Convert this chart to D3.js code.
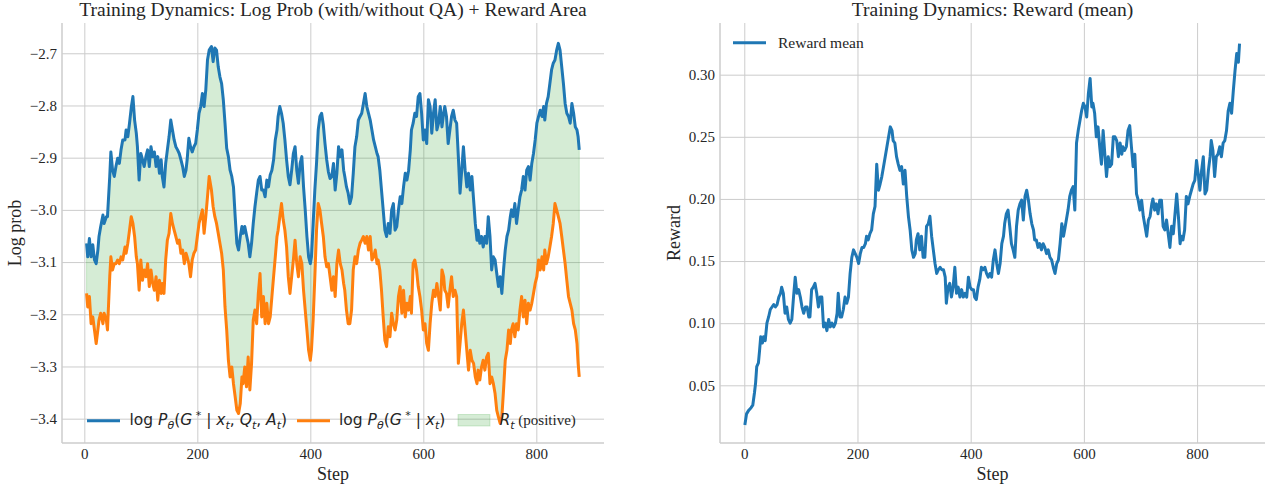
<!DOCTYPE html>
<html>
<head>
<meta charset="utf-8">
<script src="https://d3js.org/d3.v7.min.js"></script>
<style>
  body { margin: 0; background: #fff; }
</style>
</head>
<body>
<svg id="chart"></svg>
<script>
// ---- left panel: log prob with / without QA ----
var steps = [
  4,6,9,12,15,18,21,24,26,29,33,35,39,41,45,47,50,53,56,59,62,65,68,72,74,77,80,83,86,89,
  92,94,97,100,103,106,109,112,115,118,121,124,127,130,133,136,138,141,144,147,150,153,156,159,162,165,168,171,174,177,
  180,182,185,188,191,194,197,200,203,206,209,212,215,218,221,
  225,228,231,234,237,240,243,246,249,252,255,258,261,264,267,270,273,276,279,281,284,287,290,293,296,299,302,305,308,311,
  314,317,320,323,326,329,332,335,338,341,343,346,349,352,355,358,361,364,367,370,373,376,379,382,385,388,391,394,397,400,
  402,405,408,411,414,417,420,423,426,429,432,435,
  438,441,444,447,450,453,456,459,461,464,467,470,473,476,479,482,485,488,491,494,497,500,503,506,509,512,515,518,520,523,
  526,529,532,535,538,541,544,547,550,553,556,559,562,565,568,571,574,577,579,582,585,588,591,594,597,600,603,606,609,612,
  615,618,621,624,627,630,633,636,638,641,644,647,650,653,656,659,662,
  665,668,671,674,677,680,683,686,689,692,695,697,700,703,706,709,712,715,718,721,724,727,730,733,736,739,742,745,748,751,
  754,756,759,762,765,768,771,774,777,780,783,786,789,792,795,798,801,804,807,810,813,815,818,821,824,827,830,833,836,839,
  842,845,848,851,854,857,860,863,866,869,872,874,876
];
var logProbQA = [
  -3.064,-3.090,-3.055,-3.090,-3.067,-3.096,-3.103,-3.077,-3.051,-3.032,-3.010,-3.026,-3.013,-3.013,-2.936,-2.889,-2.924,-2.936,-2.917,-2.901,
  -2.911,-2.885,-2.866,-2.866,-2.847,-2.860,-2.834,-2.805,-2.783,-2.828,-2.853,-2.879,-2.943,-2.892,-2.904,-2.917,-2.898,-2.885,-2.917,-2.879,
  -2.898,-2.889,-2.917,-2.898,-2.930,-2.904,-2.936,-2.956,-2.911,-2.885,-2.860,-2.828,-2.847,-2.866,-2.879,-2.885,-2.892,-2.904,-2.917,-2.936,
  -2.924,-2.904,-2.863,-2.879,-2.889,-2.879,-2.873,-2.847,-2.815,-2.802,-2.777,-2.802,-2.770,-2.713,-2.694,
  -2.687,-2.716,-2.690,-2.694,-2.726,-2.745,-2.758,-2.789,-2.834,-2.882,-2.898,-2.924,-2.936,-2.956,-3.013,-3.064,-3.077,-3.051,-3.032,-3.045,
  -3.032,-3.048,-3.064,-3.090,-3.064,-3.026,-2.994,-2.968,-2.943,-2.936,-2.962,-2.962,-2.975,-2.943,-2.956,-2.933,-2.924,-2.904,-2.866,-2.847,
  -2.821,-2.802,-2.815,-2.834,-2.866,-2.904,-2.936,-2.952,-2.924,-2.892,-2.879,-2.924,-2.949,-2.911,-2.898,-2.956,-3.000,-3.051,-3.090,-3.103,
  -3.090,-3.026,-2.962,-2.911,-2.847,-2.821,-2.815,-2.837,-2.873,-2.904,-2.927,-2.940,
  -2.936,-2.911,-2.962,-2.930,-2.879,-2.898,-2.885,-2.924,-2.936,-2.956,-2.968,-2.988,-2.975,-2.930,-2.879,-2.860,-2.828,-2.821,-2.815,-2.796,
  -2.777,-2.802,-2.815,-2.828,-2.847,-2.866,-2.879,-2.892,-2.898,-2.924,-2.962,-3.000,-3.039,-3.051,-3.026,-3.045,-3.000,-2.988,-3.039,-3.032,
  -3.000,-2.975,-2.988,-2.956,-2.930,-2.943,-2.924,-2.885,-2.847,-2.834,-2.815,-2.821,-2.783,-2.777,-2.815,-2.866,-2.847,-2.873,-2.789,-2.802,
  -2.853,-2.815,-2.789,-2.847,-2.834,-2.802,-2.841,-2.815,-2.802,-2.821,-2.873,-2.847,-2.821,-2.809,-2.828,-2.834,-2.898,
  -2.968,-2.924,-2.879,-2.924,-2.956,-2.930,-2.962,-2.936,-2.981,-3.026,-3.058,-3.039,-3.064,-3.051,-3.071,-3.051,-3.064,-3.013,-3.051,-3.115,
  -3.090,-3.096,-3.122,-3.147,-3.128,-3.160,-3.115,-3.077,-3.051,-3.039,-3.013,-3.000,-3.013,-2.988,-3.026,-3.000,-2.975,-2.962,-2.936,-2.962,
  -2.924,-2.917,-2.943,-2.911,-2.892,-2.866,-2.834,-2.821,-2.809,-2.821,-2.802,-2.828,-2.796,-2.783,-2.758,-2.732,-2.719,-2.713,-2.694,-2.681,
  -2.694,-2.726,-2.758,-2.796,-2.815,-2.821,-2.834,-2.796,-2.815,-2.841,-2.847,-2.860,-2.885
];
var logProbNoQA = [
  -3.160,-3.186,-3.166,-3.218,-3.205,-3.230,-3.256,-3.230,-3.211,-3.198,-3.218,-3.198,-3.211,-3.230,-3.128,-3.090,-3.115,-3.103,-3.103,-3.096,
  -3.103,-3.090,-3.096,-3.071,-3.083,-3.064,-3.039,-3.013,-3.026,-3.051,-3.090,-3.103,-3.154,-3.096,-3.135,-3.115,-3.128,-3.103,-3.147,-3.115,
  -3.141,-3.154,-3.128,-3.173,-3.135,-3.160,-3.141,-3.160,-3.096,-3.058,-3.045,-3.007,-3.026,-3.039,-3.051,-3.064,-3.058,-3.083,-3.077,-3.103,
  -3.083,-3.090,-3.103,-3.128,-3.096,-3.083,-3.077,-3.051,-3.026,-3.013,-3.000,-3.045,-3.013,-2.975,-2.936,
  -2.962,-2.994,-3.013,-3.026,-3.045,-3.064,-3.083,-3.115,-3.186,-3.230,-3.288,-3.320,-3.301,-3.333,-3.358,-3.384,-3.390,-3.371,-3.320,-3.333,
  -3.301,-3.339,-3.282,-3.345,-3.294,-3.211,-3.192,-3.218,-3.160,-3.122,-3.205,-3.166,-3.218,-3.179,-3.218,-3.205,-3.166,-3.128,-3.090,-3.051,
  -3.039,-3.013,-2.988,-3.019,-3.039,-3.071,-3.128,-3.160,-3.128,-3.096,-3.058,-3.103,-3.128,-3.090,-3.103,-3.154,-3.192,-3.230,-3.269,-3.288,
  -3.269,-3.211,-3.128,-3.039,-2.988,-3.000,-3.026,-3.051,-3.090,-3.109,-3.103,-3.128,
  -3.154,-3.128,-3.166,-3.103,-3.077,-3.103,-3.115,-3.141,-3.154,-3.192,-3.218,-3.218,-3.192,-3.115,-3.090,-3.103,-3.077,-3.064,-3.058,-3.051,
  -3.064,-3.051,-3.077,-3.051,-3.096,-3.090,-3.077,-3.103,-3.096,-3.115,-3.154,-3.205,-3.250,-3.262,-3.224,-3.243,-3.198,-3.218,-3.230,-3.211,
  -3.166,-3.147,-3.198,-3.154,-3.205,-3.179,-3.192,-3.166,-3.198,-3.103,-3.096,-3.115,-3.147,-3.166,-3.192,-3.230,-3.218,-3.256,-3.269,-3.218,
  -3.179,-3.154,-3.166,-3.141,-3.166,-3.192,-3.115,-3.128,-3.154,-3.160,-3.186,-3.154,-3.128,-3.166,-3.154,-3.166,-3.294,
  -3.256,-3.218,-3.192,-3.230,-3.269,-3.307,-3.269,-3.288,-3.294,-3.320,-3.333,-3.307,-3.326,-3.301,-3.288,-3.307,-3.282,-3.275,-3.333,-3.320,
  -3.333,-3.352,-3.384,-3.397,-3.409,-3.397,-3.345,-3.288,-3.269,-3.230,-3.256,-3.230,-3.218,-3.243,-3.218,-3.230,-3.192,-3.166,-3.205,-3.173,
  -3.218,-3.179,-3.192,-3.179,-3.160,-3.141,-3.128,-3.096,-3.115,-3.090,-3.115,-3.077,-3.103,-3.090,-3.071,-3.051,-3.026,-2.988,-3.000,-3.013,
  -3.026,-3.051,-3.077,-3.103,-3.135,-3.166,-3.179,-3.192,-3.218,-3.230,-3.256,-3.294,-3.320
];

// ---- right panel: reward mean ----
var rewardSteps = [
  1,4,8,12,15,18,20,22,25,27,29,32,34,37,40,43,46,49,52,55,58,61,64,66,69,72,75,78,81,84,
  87,90,93,96,99,102,105,108,111,114,116,119,122,125,128,131,134,137,140,143,146,149,152,155,158,161,164,166,169,172,
  175,178,181,184,187,190,193,196,199,202,205,208,211,214,216,219,222,225,228,231,234,237,240,243,246,249,252,255,258,261,
  263,266,269,272,275,278,281,284,287,290,293,
  296,299,302,304,307,310,313,316,319,322,325,328,331,334,337,340,343,346,349,352,355,357,360,363,366,369,372,375,378,381,
  384,387,390,393,396,399,402,405,407,410,413,416,419,422,425,428,431,434,437,440,443,446,449,452,455,458,460,463,466,469,
  472,475,478,481,484,487,490,493,496,499,502,505,508,511,513,516,519,522,525,528,531,534,537,540,543,546,549,552,555,558,
  561,564,566,569,572,575,578,581,584,
  587,590,593,596,599,602,605,608,611,614,616,619,622,625,628,631,634,637,640,643,646,649,652,655,658,661,664,667,669,672,
  675,678,681,684,687,690,693,696,699,702,705,708,711,714,717,720,722,725,728,731,734,737,740,743,746,749,752,755,758,761,
  764,767,770,772,775,778,781,784,787,790,793,796,799,802,805,808,811,814,817,820,823,825,828,831,834,837,840,843,846,849,
  852,855,858,861,864,867,870,873,875
];
var rewardMean = [
  0.018,0.027,0.030,0.032,0.034,0.044,0.052,0.065,0.068,0.078,0.089,0.084,0.089,0.086,0.100,0.105,0.111,0.113,0.115,0.113,
  0.115,0.121,0.124,0.129,0.124,0.108,0.113,0.103,0.100,0.103,0.121,0.137,0.124,0.127,0.121,0.113,0.108,0.113,0.113,0.105,
  0.105,0.127,0.129,0.132,0.124,0.113,0.121,0.121,0.097,0.100,0.094,0.103,0.097,0.100,0.097,0.100,0.108,0.124,0.105,0.105,
  0.111,0.121,0.116,0.121,0.140,0.153,0.159,0.156,0.153,0.148,0.156,0.161,0.161,0.164,0.170,0.167,0.172,0.175,0.188,0.194,
  0.228,0.207,0.212,0.218,0.226,0.234,0.242,0.250,0.258,0.255,0.247,0.245,0.234,0.228,0.223,0.226,0.212,0.223,0.202,0.186,
  0.175,
  0.159,0.153,0.156,0.167,0.172,0.159,0.170,0.153,0.153,0.178,0.180,0.186,0.170,0.159,0.148,0.140,0.143,0.145,0.143,0.143,
  0.137,0.116,0.129,0.132,0.121,0.129,0.145,0.124,0.129,0.121,0.127,0.121,0.124,0.121,0.137,0.129,0.127,0.127,0.121,0.119,
  0.129,0.135,0.145,0.143,0.145,0.140,0.137,0.140,0.137,0.151,0.159,0.148,0.140,0.148,0.164,0.170,0.180,0.188,0.191,0.178,
  0.164,0.159,0.153,0.178,0.191,0.196,0.199,0.183,0.202,0.207,0.199,0.188,0.180,0.175,0.167,0.167,0.161,0.164,0.159,0.164,
  0.161,0.156,0.159,0.153,0.151,0.145,0.140,0.148,0.151,0.164,0.180,0.170,0.175,0.183,0.191,0.202,0.207,0.210,0.191,
  0.245,0.255,0.263,0.271,0.277,0.274,0.266,0.285,0.297,0.274,0.277,0.269,0.250,0.258,0.242,0.228,0.255,0.236,0.218,0.234,
  0.226,0.228,0.250,0.250,0.247,0.234,0.245,0.236,0.242,0.239,0.242,0.255,0.259,0.242,0.226,0.236,0.204,0.199,0.191,0.199,
  0.186,0.178,0.170,0.183,0.186,0.196,0.200,0.191,0.196,0.188,0.199,0.199,0.178,0.175,0.183,0.172,0.161,0.178,0.172,0.188,
  0.204,0.186,0.164,0.170,0.167,0.175,0.202,0.196,0.202,0.207,0.212,0.215,0.231,0.220,0.207,0.223,0.234,0.204,0.207,0.223,
  0.234,0.247,0.239,0.218,0.234,0.236,0.242,0.234,0.245,0.247,0.255,0.271,0.277,0.269,0.287,0.303,0.317,0.310,0.325
];

// ---- ticks ----
var stepTicks = [0, 200, 400, 600, 800];
var logProbTicks = [-3.4, -3.3, -3.2, -3.1, -3.0, -2.9, -2.8, -2.7];
var rewardTicks = [0.05, 0.10, 0.15, 0.20, 0.25, 0.30];

var blue = "#1f77b4", orange = "#ff7f0e", green = "#2ca02c";
var serif = "'Liberation Serif', 'Times New Roman', serif";
var mathFont = "'DejaVu Sans', sans-serif";
var ink = "#262626", gridColor = "#cccccc";
var lineW = 3;

var svg = d3.select("#chart").attr("width", 1270).attr("height", 488)
  .style("background", "#fff");

function styleAxis(sel) {
  sel.attr("font-family", serif).attr("font-size", 15);
  sel.select(".domain").remove();
  sel.selectAll(".tick line").attr("stroke", gridColor).attr("stroke-width", 1);
  sel.selectAll(".tick text").attr("fill", ink)
    .style("font-family", serif).style("font-size", "15px");
}

function panel(o) {
  var x = d3.scaleLinear().domain(o.xDomain).range([o.left, o.right]);
  var y = d3.scaleLinear().domain(o.yDomain).range([o.bottom, o.top]);
  var g = svg.append("g");

  g.append("g").attr("transform", "translate(0," + o.bottom + ")")
    .call(d3.axisBottom(x).tickValues(stepTicks).tickSize(-(o.bottom - o.top))
      .tickPadding(5.5).tickFormat(d3.format("d")))
    .call(styleAxis);
  g.append("g").attr("transform", "translate(" + o.left + ",0)")
    .call(d3.axisLeft(y).tickValues(o.yTicks).tickSize(-(o.right - o.left))
      .tickPadding(5).tickFormat(o.fmt))
    .call(styleAxis);

  var marks = g.append("g");

  g.append("line").attr("x1", o.left).attr("x2", o.left).attr("y1", o.top).attr("y2", o.bottom)
    .attr("stroke", gridColor).attr("stroke-width", 1.5);
  g.append("line").attr("x1", o.left).attr("x2", o.right).attr("y1", o.bottom).attr("y2", o.bottom)
    .attr("stroke", gridColor).attr("stroke-width", 1.5);

  var cx = (o.left + o.right) / 2;
  g.append("text").attr("x", cx).attr("y", 16).attr("text-anchor", "middle")
    .style("font-family", serif).style("font-size", "19.5px").attr("fill", ink).text(o.title);
  g.append("text").attr("x", cx).attr("y", 480).attr("text-anchor", "middle")
    .style("font-family", serif).style("font-size", "18px").attr("fill", ink).text("Step");
  g.append("text").attr("transform", "translate(" + o.ylabelX + "," + ((o.top + o.bottom) / 2) + ") rotate(-90)")
    .attr("text-anchor", "middle")
    .style("font-family", serif).style("font-size", "18px").attr("fill", ink).text(o.ylabel);

  return { x: x, y: y, marks: marks };
}

// math-style legend label built from tspans
function mathLabel(parent, x, y, parts) {
  var t = parent.append("text").attr("x", x).attr("y", y).attr("fill", ink)
    .style("white-space", "pre").style("font-size", "15.5px");
  var shift = 0;
  parts.forEach(function(p) {
    var want = p[1] === "sub" ? 3.5 : (p[1] === "sup" ? -6 : 0);
    var s = t.append("tspan").attr("dy", want - shift).text(p[0]);
    shift = want;
    if (p[1] === "serif") s.style("font-family", serif).style("font-size", "15px");
    else s.style("font-family", mathFont);
    if (p[1] === "it" || p[1] === "sub") s.style("font-style", "italic");
    if (p[1] === "sub" || p[1] === "sup") s.style("font-size", "11px");
  });
  return t;
}

// ---- left panel ----
var L = panel({
  left: 62, right: 604, top: 23, bottom: 443,
  xDomain: [-39.5, 919.8], yDomain: [-3.4466, -2.642],
  yTicks: logProbTicks, fmt: d3.format(".1f"),
  title: "Training Dynamics: Log Prob (with/without QA) + Reward Area",
  ylabel: "Log prob", ylabelX: 20.5
});

var area = d3.area()
  .x(function(d, i) { return L.x(steps[i]); })
  .y0(function(d, i) { return L.y(logProbNoQA[i]); })
  .y1(function(d, i) { return L.y(logProbQA[i]); });
L.marks.append("path").datum(steps).attr("d", area)
  .attr("fill", green).attr("fill-opacity", 0.2)
  .attr("stroke", green).attr("stroke-opacity", 0.2).attr("stroke-width", 1);

function seriesLine(P, xs, ys, color) {
  var line = d3.line()
    .x(function(d, i) { return P.x(xs[i]); })
    .y(function(d, i) { return P.y(ys[i]); });
  P.marks.append("path").datum(xs).attr("d", line)
    .attr("fill", "none").attr("stroke", color).attr("stroke-width", lineW)
    .attr("stroke-linejoin", "round");
}
seriesLine(L, steps, logProbQA, blue);
seriesLine(L, steps, logProbNoQA, orange);

// left legend
var lg = svg.append("g");
lg.append("line").attr("x1", 87).attr("x2", 120).attr("y1", 420.7).attr("y2", 420.7)
  .attr("stroke", blue).attr("stroke-width", lineW);
mathLabel(lg, 129.5, 425, [["log ", "rm"], ["P", "it"], ["θ", "sub"], ["(", "rm"], ["G", "it"], [" *", "sup"],
  [" | ", "rm"], ["x", "it"], ["t", "sub"], [", ", "rm"], ["Q", "it"], ["t", "sub"], [", ", "rm"], ["A", "it"], ["t", "sub"], [")", "rm"]]);
lg.append("line").attr("x1", 297).attr("x2", 330).attr("y1", 420.7).attr("y2", 420.7)
  .attr("stroke", orange).attr("stroke-width", lineW);
mathLabel(lg, 339, 425, [["log ", "rm"], ["P", "it"], ["θ", "sub"], ["(", "rm"], ["G", "it"], [" *", "sup"],
  [" | ", "rm"], ["x", "it"], ["t", "sub"], [")", "rm"]]);
lg.append("rect").attr("x", 458).attr("y", 414.5).attr("width", 32).attr("height", 11.5)
  .attr("fill", green).attr("fill-opacity", 0.2).attr("stroke", green).attr("stroke-opacity", 0.2);
mathLabel(lg, 499.5, 425, [["R", "it"], ["t", "sub"], [" (positive)", "serif"]]);

// ---- right panel ----
var R = panel({
  left: 720, right: 1265, top: 23, bottom: 443,
  xDomain: [-42.9, 920], yDomain: [0.00356, 0.3416],
  yTicks: rewardTicks, fmt: d3.format(".2f"),
  title: "Training Dynamics: Reward (mean)",
  ylabel: "Reward", ylabelX: 680
});
seriesLine(R, rewardSteps, rewardMean, blue);

var rg = svg.append("g");
rg.append("line").attr("x1", 733).attr("x2", 766).attr("y1", 42.7).attr("y2", 42.7)
  .attr("stroke", blue).attr("stroke-width", lineW);
rg.append("text").attr("x", 778).attr("y", 48).attr("fill", ink)
  .style("font-family", serif).style("font-size", "15.5px").text("Reward mean");
</script>
</body>
</html>
